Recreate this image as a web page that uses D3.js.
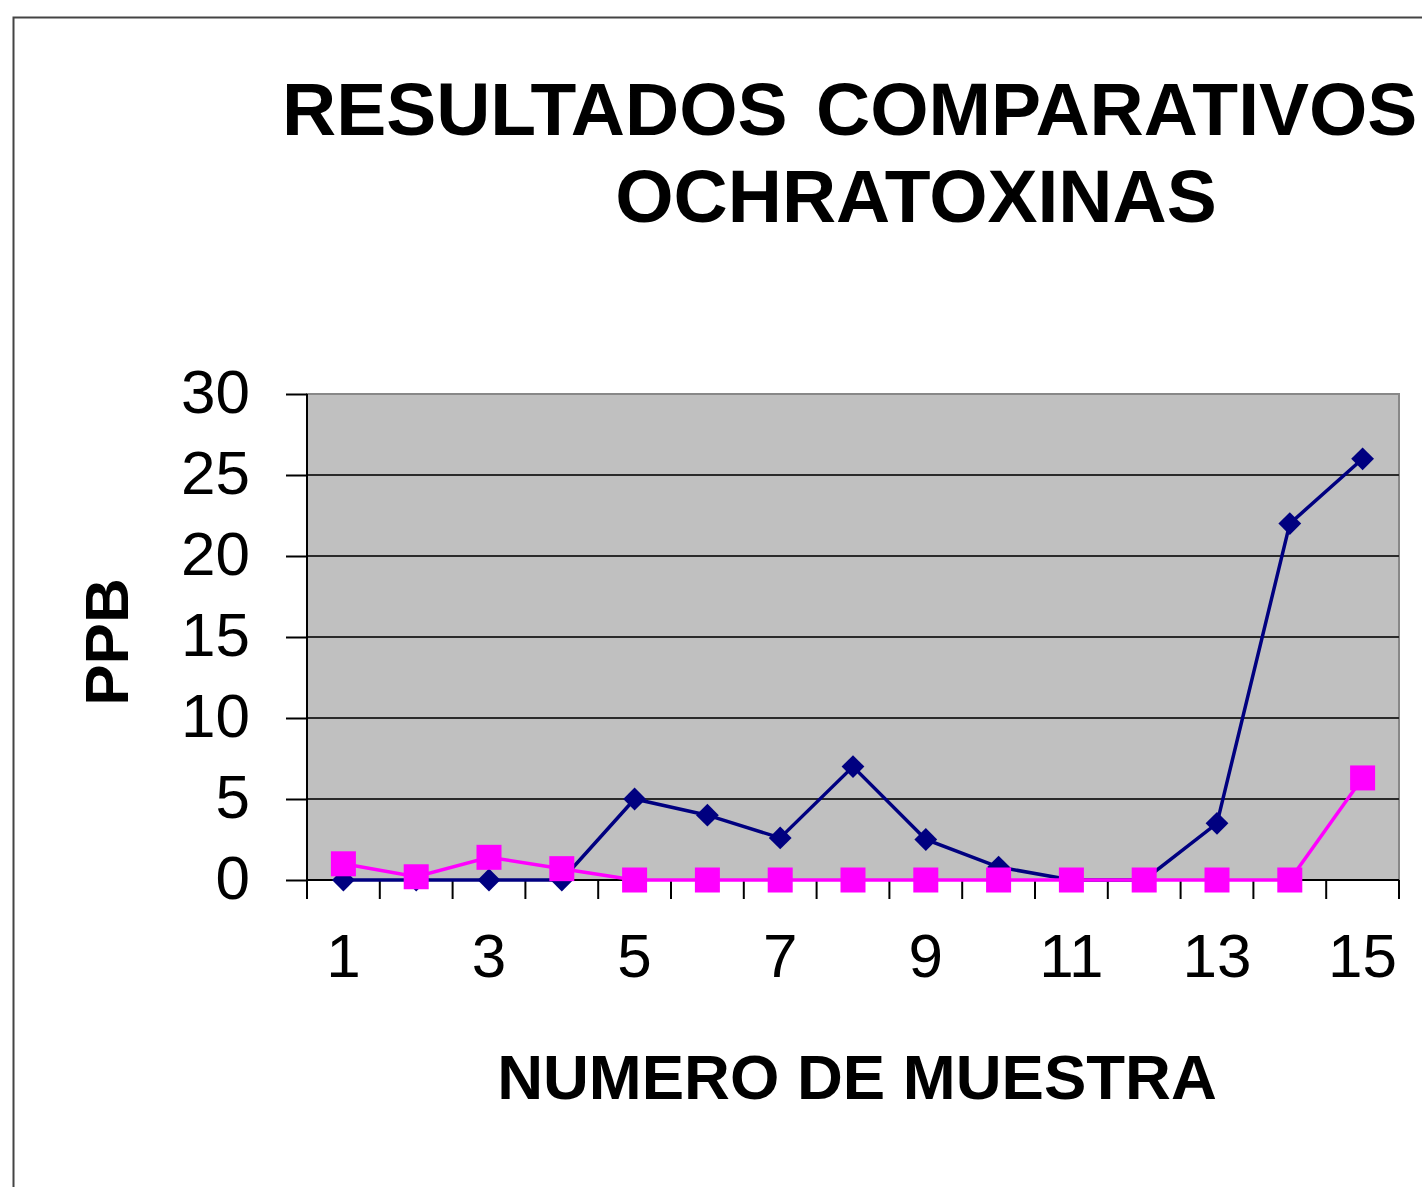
<!DOCTYPE html>
<html>
<head>
<meta charset="utf-8">
<style>
  body { margin: 0; background: #fff; }
  svg { display: block; font-family: "Liberation Sans", Arial, sans-serif; }
</style>
</head>
<body>
<svg width="1422" height="1187"></svg>
<script src="https://d3js.org/d3.v7.min.js"></script>
<script>

var samples = [1, 2, 3, 4, 5, 6, 7, 8, 9, 10, 11, 12, 13, 14, 15];
var seriesBlue = [0, 0, 0, 0, 5, 4, 2.6, 7, 2.5, 0.8, 0, 0, 3.5, 22, 26];
var seriesPink = [1, 0.2, 1.4, 0.7, 0, 0, 0, 0, 0, 0, 0, 0, 0, 0, 6.3];
var yTicks = [0, 5, 10, 15, 20, 25, 30];

var svg = d3.select("svg");

var plot = { left: 307, right: 1399, top: 394, bottom: 880 };

var x = d3.scaleBand()
    .domain(samples)
    .range([plot.left, plot.right]);

var y = d3.scaleLinear()
    .domain([0, 30])
    .range([plot.bottom, plot.top]);

// outer frame (runs off the right / bottom edge)
svg.append("rect")
    .attr("x", 13.5)
    .attr("y", 17.5)
    .attr("width", 1500)
    .attr("height", 1300)
    .attr("fill", "none")
    .attr("stroke", "#444")
    .attr("stroke-width", 2);

// title
var title = svg.append("text")
    .attr("font-weight", "bold")
    .attr("font-size", 75)
    .attr("fill", "#000");
title.append("tspan")
    .attr("x", 282)
    .attr("y", 135)
    .text("RESULTADOS");
title.append("tspan")
    .attr("x", 816)
    .attr("y", 135)
    .text("COMPARATIVOS");
svg.append("text")
    .attr("x", 916)
    .attr("y", 222)
    .attr("text-anchor", "middle")
    .attr("font-weight", "bold")
    .attr("font-size", 75)
    .text("OCHRATOXINAS");

// plot area
svg.append("rect")
    .attr("x", plot.left)
    .attr("y", plot.top)
    .attr("width", plot.right - plot.left)
    .attr("height", plot.bottom - plot.top)
    .attr("fill", "#c0c0c0")
    .attr("stroke", "#888")
    .attr("stroke-width", 2);

// gridlines
svg.append("g")
  .selectAll("line")
  .data(yTicks.filter(function(d) { return d > 0 && d < 30; }))
  .enter().append("line")
    .attr("x1", plot.left)
    .attr("x2", plot.right)
    .attr("y1", function(d) { return y(d); })
    .attr("y2", function(d) { return y(d); })
    .attr("stroke", "#2a2a2a")
    .attr("stroke-width", 2);

// y axis
var yAxis = svg.append("g")
    .attr("transform", "translate(" + plot.left + ",0)")
    .call(d3.axisLeft(y)
      .tickValues(yTicks)
      .tickSize(21)
      .tickPadding(36));
yAxis.select(".domain").remove();
yAxis.selectAll(".tick line").attr("stroke", "#000").attr("stroke-width", 2);
yAxis.selectAll(".tick text")
    .attr("font-size", 62)
    .attr("font-family", "Liberation Sans, Arial, sans-serif")
    .attr("fill", "#000")
    .attr("dy", "0.3em");

svg.append("line")
    .attr("x1", plot.left)
    .attr("x2", plot.left)
    .attr("y1", plot.top)
    .attr("y2", plot.bottom + 19)
    .attr("stroke", "#000")
    .attr("stroke-width", 2);

// x axis
svg.append("line")
    .attr("x1", plot.left)
    .attr("x2", plot.right)
    .attr("y1", plot.bottom)
    .attr("y2", plot.bottom)
    .attr("stroke", "#000")
    .attr("stroke-width", 2);

var edges = samples.map(function(d) { return x(d); }).concat([plot.right]);
svg.append("g")
  .selectAll("line")
  .data(edges)
  .enter().append("line")
    .attr("x1", function(d) { return d; })
    .attr("x2", function(d) { return d; })
    .attr("y1", plot.bottom)
    .attr("y2", plot.bottom + 19)
    .attr("stroke", "#000")
    .attr("stroke-width", 2);

svg.append("g")
  .selectAll("text")
  .data(samples.filter(function(d) { return d % 2 === 1; }))
  .enter().append("text")
    .attr("x", function(d) { return x(d) + x.bandwidth() / 2; })
    .attr("y", 977)
    .attr("text-anchor", "middle")
    .attr("font-size", 62)
    .text(function(d) { return d; });

// axis titles
svg.append("text")
    .attr("transform", "translate(128,642) rotate(-90)")
    .attr("text-anchor", "middle")
    .attr("font-weight", "bold")
    .attr("font-size", 62)
    .text("PPB");

svg.append("text")
    .attr("x", 857)
    .attr("y", 1099)
    .attr("text-anchor", "middle")
    .attr("font-weight", "bold")
    .attr("font-size", 63.5)
    .text("NUMERO DE MUESTRA");

// series
var cx = function(d, i) { return x(samples[i]) + x.bandwidth() / 2; };

var line = d3.line()
    .x(cx)
    .y(function(d) { return y(d); });

svg.append("path")
    .datum(seriesBlue)
    .attr("fill", "none")
    .attr("stroke", "#000080")
    .attr("stroke-width", 3.5)
    .attr("d", line);

svg.append("g")
  .selectAll("path")
  .data(seriesBlue)
  .enter().append("path")
    .attr("d", d3.symbol().type(d3.symbolSquare).size(260))
    .attr("transform", function(d, i) { return "translate(" + cx(d, i) + "," + y(d) + ") rotate(45)"; })
    .attr("fill", "#000080");

svg.append("path")
    .datum(seriesPink)
    .attr("fill", "none")
    .attr("stroke", "#ff00ff")
    .attr("stroke-width", 3.5)
    .attr("d", line);

svg.append("g")
  .selectAll("rect")
  .data(seriesPink)
  .enter().append("rect")
    .attr("x", function(d, i) { return cx(d, i) - 12.5; })
    .attr("y", function(d) { return y(d) - 12.5; })
    .attr("width", 25)
    .attr("height", 25)
    .attr("fill", "#ff00ff");

</script>
</body>
</html>
